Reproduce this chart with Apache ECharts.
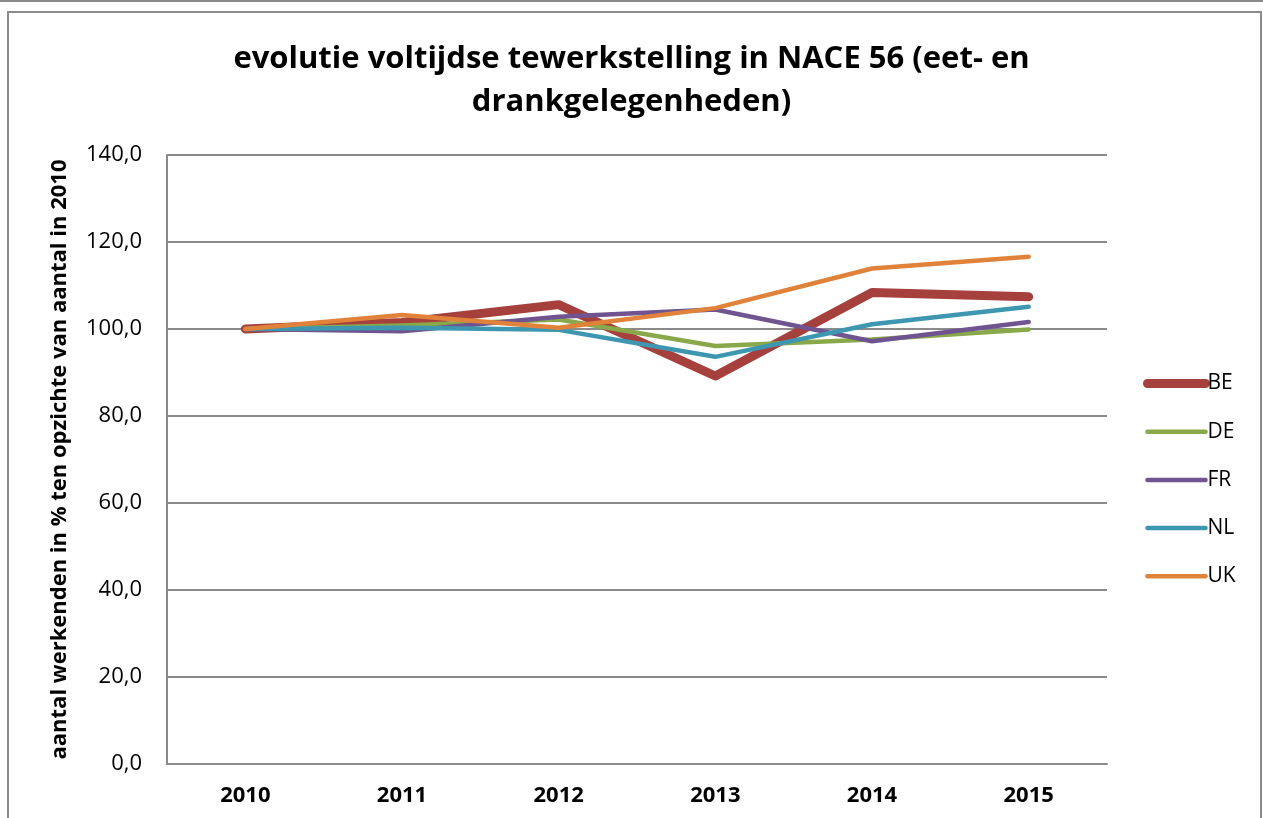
<!DOCTYPE html>
<html>
<head>
<meta charset="utf-8">
<style>
  html, body { margin: 0; padding: 0; background: #fff; }
  #chart { width: 1263px; height: 818px; }
</style>
<script src="https://cdn.jsdelivr.net/npm/echarts@6/dist/echarts.min.js"></script>
</head>
<body>
<div id="chart"></div>
<script>
// gegevens (index, 2010 = 100)
var jaren = ['2010', '2011', '2012', '2013', '2014', '2015'];
var BE = [100, 101.5, 105.6, 89.2, 108.4, 107.4];
var DE = [100, 100.8, 102.2, 96.1, 97.6, 99.9];
var FR = [100, 99.5, 102.8, 104.5, 97.2, 101.6];
var NL = [100, 100.3, 99.8, 93.6, 101.1, 105.1];
var UK = [100, 103.2, 100.3, 104.8, 113.9, 116.6];

var font = 'Open Sans';

function reeks(naam, data, kleur, dikte) {
    return {
        name: naam,
        type: 'line',
        data: data,
        symbol: 'none',
        color: kleur,
        lineStyle: { color: kleur, width: dikte, cap: 'round', join: 'round' }
    };
}

var myChart = echarts.init(document.getElementById('chart'));

var option = {
    backgroundColor: '#fff',
    animation: false,
    title: {
        text: 'evolutie voltijdse tewerkstelling in NACE 56 (eet- en\ndrankgelegenheden)',
        left: 'center',
        top: 33,
        textStyle: { fontFamily: font, fontWeight: 'bold', fontSize: 31, lineHeight: 43, color: '#000' }
    },
    graphic: [
        { type: 'line', shape: { x1: 0, y1: 1, x2: 1263, y2: 1 }, style: { stroke: '#8a8a8a', lineWidth: 2 } },
        { type: 'rect', shape: { x: 8, y: 12, width: 1253, height: 820 }, style: { fill: 'none', stroke: '#8a8a8a', lineWidth: 2 } }
    ],
    legend: {
        orient: 'vertical',
        left: 1143,
        top: 373,
        padding: 0,
        itemWidth: 58,
        itemHeight: 20,
        itemGap: 27.2,
        textStyle: { fontFamily: font, fontSize: 21, color: '#000', padding: [0, 0, 0, -3] },
        itemStyle: { opacity: 0 },
        lineStyle: { width: 'inherit', cap: 'round' },
        data: ['BE', 'DE', 'FR', 'NL', 'UK']
    },
    grid: { left: 167, right: 156, top: 155, bottom: 54 },
    xAxis: {
        type: 'category',
        data: jaren,
        boundaryGap: true,
        axisTick: { show: false },
        axisLine: { lineStyle: { color: '#8a8a8a', width: 2 } },
        axisLabel: { fontFamily: font, fontWeight: 'bold', fontSize: 22, color: '#000', margin: 21 }
    },
    yAxis: {
        type: 'value',
        min: 0,
        max: 140,
        interval: 20,
        name: 'aantal werkenden in % ten opzichte van aantal in 2010',
        nameLocation: 'middle',
        nameGap: 96,
        nameTextStyle: { fontFamily: font, fontWeight: 'bold', fontSize: 22, color: '#000' },
        axisLine: { show: true, lineStyle: { color: '#8a8a8a', width: 2 } },
        axisTick: { show: false },
        axisLabel: {
            fontFamily: font, fontSize: 22, color: '#000', margin: 25,
            formatter: function (v) { return v.toFixed(1).replace('.', ','); }
        },
        splitLine: { lineStyle: { color: '#8a8a8a', width: 2 } }
    },
    series: [
        reeks('BE', BE, '#A6403D', 9),
        reeks('DE', DE, '#88A84A', 4.5),
        reeks('FR', FR, '#6F5490', 4.5),
        reeks('NL', NL, '#3E97B1', 4.5),
        reeks('UK', UK, '#E0823A', 4.5)
    ]
};

myChart.setOption(option);
</script>
</body>
</html>
